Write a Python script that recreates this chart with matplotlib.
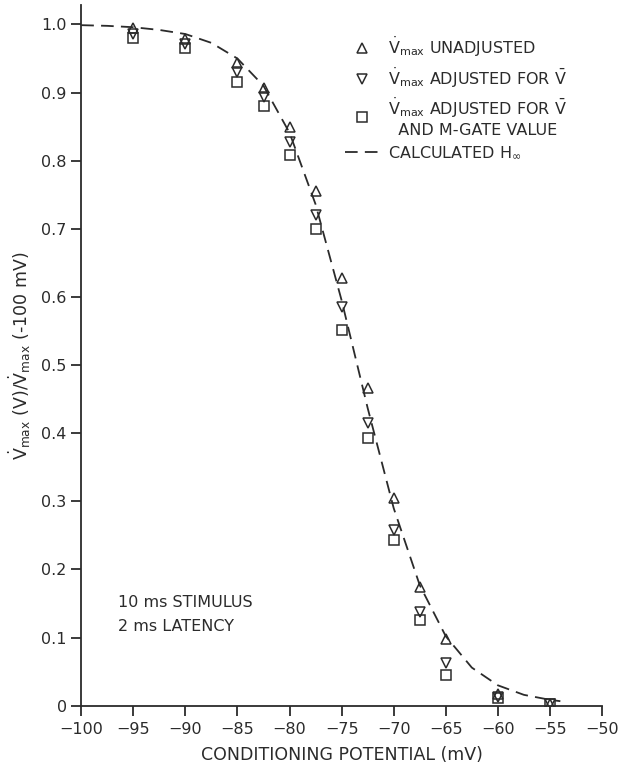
import numpy as np
import matplotlib.pyplot as plt
from matplotlib.lines import Line2D

plt.rcParams['font.family'] = ['DejaVu Sans']
plt.rcParams['mathtext.fontset'] = 'custom'
plt.rcParams['mathtext.rm'] = 'DejaVu Sans'
plt.rcParams['mathtext.it'] = 'DejaVu Sans'
plt.rcParams['mathtext.bf'] = 'DejaVu Sans'

INK = '#2b2b2b'

# conditioning potentials (mV)
v_cond = [-95, -90, -85, -82.5, -80, -77.5, -75, -72.5, -70, -67.5, -65, -60, -55]

# normalised Vmax, three treatments
unadjusted = [0.995, 0.979, 0.944, 0.907, 0.849, 0.755, 0.628, 0.466, 0.305, 0.175, 0.098, 0.017, 0.002]
adj_vbar = [0.986, 0.972, 0.930, 0.893, 0.827, 0.720, 0.585, 0.415, 0.258, 0.138, 0.063, 0.013, 0.002]
adj_vbar_m = [0.980, 0.966, 0.916, 0.881, 0.808, 0.700, 0.551, 0.393, 0.243, 0.126, 0.045, 0.012, 0.002]

# calculated h-infinity curve
v_curve = [-100, -97.5, -95, -92.5, -90, -87.5, -85, -82.5, -80, -77.5, -75, -72.5,
           -70, -67.5, -65, -62.5, -60, -57.5, -55, -54]
h_inf = [0.999, 0.998, 0.996, 0.992, 0.986, 0.973, 0.950, 0.910, 0.841, 0.736, 0.595, 0.437,
         0.290, 0.177, 0.102, 0.056, 0.030, 0.016, 0.0087, 0.0067]

DASH = (0, (7, 4))

fig = plt.figure(figsize=(6.2, 7.73), dpi=100)
ax = fig.add_axes([0.131, 0.087, 0.84, 0.906])

ax.plot(v_curve, h_inf, ls=DASH, color=INK, lw=1.3)
mk = dict(ls='none', mfc='none', mec=INK, ms=7, mew=1.1)
sq = dict(ls='none', mfc='none', mec=INK, ms=6.5, mew=1.1)
ax.plot(v_cond, unadjusted, marker='^', **mk)
ax.plot(v_cond, adj_vbar, marker='v', **mk)
ax.plot(v_cond, adj_vbar_m, marker='s', **sq)

ax.set_xlim(-100, -50)
ax.set_ylim(0, 1.028)
ax.set_xticks(np.arange(-100, -49, 5))
ax.set_yticks(np.arange(0, 1.01, 0.1))
ax.set_yticklabels(['0'] + [f'{t:.1f}' for t in np.arange(0.1, 1.01, 0.1)])

for s in ['top', 'right']:
    ax.spines[s].set_visible(False)
for s in ['left', 'bottom']:
    ax.spines[s].set_color(INK)
    ax.spines[s].set_linewidth(1.3)
ax.tick_params(colors=INK, labelsize=11.5, length=7, width=1.3, direction='out')
ax.tick_params(axis='x', pad=5)

ax.set_xlabel('CONDITIONING POTENTIAL (mV)', fontsize=12.5, color=INK, labelpad=6)
ax.set_ylabel(r'$\dot{\mathrm{V}}_{\mathrm{max}}$ (V)/$\dot{\mathrm{V}}_{\mathrm{max}}$ (-100 mV)',
              fontsize=12.5, color=INK, labelpad=6)

ax.text(-96.5, 0.163, '10 ms STIMULUS\n2 ms LATENCY', fontsize=11.5, color=INK,
        linespacing=1.75, va='top')

handles = [
    Line2D([], [], marker='^', **mk),
    Line2D([], [], marker='v', **mk),
    Line2D([], [], marker='s', **sq),
    Line2D([], [], ls=DASH, color=INK, lw=1.3),
]
labels = [
    r'$\dot{\mathrm{V}}_{\mathrm{max}}$ UNADJUSTED',
    r'$\dot{\mathrm{V}}_{\mathrm{max}}$ ADJUSTED FOR $\bar{\mathrm{V}}$',
    r'$\dot{\mathrm{V}}_{\mathrm{max}}$ ADJUSTED FOR $\bar{\mathrm{V}}$' + '\n  AND M-GATE VALUE',
    r'CALCULATED H$_{\infty}$',
]
leg = ax.legend(handles, labels, loc='upper left', bbox_to_anchor=(0.507, 0.958),
                frameon=False, fontsize=11.5, handlelength=2.1, handletextpad=0.6,
                labelspacing=0.42, borderpad=0, borderaxespad=0, labelcolor=INK)

fig.savefig('out.png', dpi=100)
